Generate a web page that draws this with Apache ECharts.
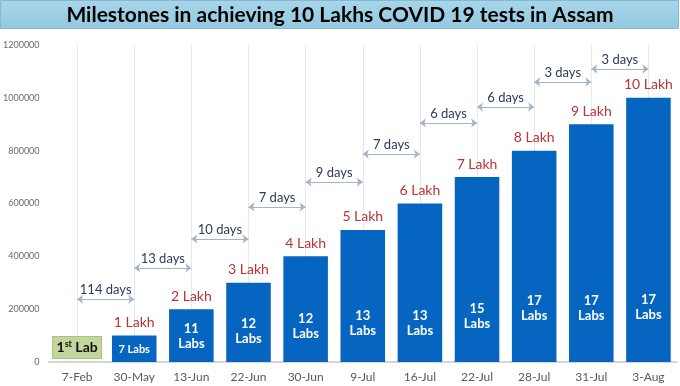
<!DOCTYPE html>
<html>
<head>
<meta charset="utf-8">
<style>html,body{margin:0;padding:0;background:#fff}#c{width:680px;height:386px}</style>
<script src="https://cdn.jsdelivr.net/npm/echarts@6/dist/echarts.min.js"></script>
</head>
<body>
<div id="c"></div>
<script>
const titleText = 'Milestones in achieving 10 Lakhs COVID 19 tests in Assam';
const categories = ['7-Feb','30-May','13-Jun','22-Jun','30-Jun','9-Jul','16-Jul','22-Jul','28-Jul','31-Jul','3-Aug'];
const tests = [0,100000,200000,300000,400000,500000,600000,700000,800000,900000,1000000];
const lakhLabels = ['','1 Lakh','2 Lakh','3 Lakh','4 Lakh','5 Lakh','6 Lakh','7 Lakh','8 Lakh','9 Lakh','10 Lakh'];
const labs = [1,7,11,12,12,13,13,15,17,17,17];
const gapDays = [114,13,10,7,9,7,6,6,3,3];
const gapArrowLevels = [238000,356000,466000,587000,681000,787000,905000,965000,1060000,1109000];
const yTicks = {min:0, max:1200000, interval:200000};

// label styling (pixels above bar bottom for the lab-count labels)
const labLabelLift = [4,6,11,16,21,24,24,31,39,39,40];

const font = 'Lato, "Open Sans", sans-serif';
const chart = echarts.init(document.getElementById('c'));

const barData = tests.map((v, i) => {
  if (i === 0) {
    return {
      value: v,
      itemStyle: {color: 'transparent'},
      label: {
        show: true, position: 'insideBottom', distance: labLabelLift[i],
        formatter: '{n|' + labs[i] + '}{s|st}{n| Lab}',
        backgroundColor: '#c3d69b', borderColor: '#a9bf84', borderWidth: 1,
        padding: [2, 5, 2, 5], width: 38, align: 'center',
        rich: {
          n: {fontFamily: font, fontWeight: 'bold', fontSize: 14, color: '#111', lineHeight: 17},
          s: {fontFamily: font, fontWeight: 'bold', fontSize: 9, color: '#111', padding: [0, 0, 7, 0]}
        }
      }
    };
  }
  const single = i === 1;
  return {
    value: v,
    label: {
      show: true, position: 'insideBottom', distance: labLabelLift[i],
      formatter: single ? labs[i] + ' Labs' : labs[i] + '\nLabs',
      color: '#fff', fontFamily: font, fontWeight: 'bold',
      fontSize: single ? 11 : 13, lineHeight: single ? 13 : 15
    }
  };
});

const gridLines = categories.map(c => ({xAxis: c}));

const arrows = gapDays.map((d, i) => [
  {coord: [categories[i], gapArrowLevels[i]], name: d + ' days'},
  {coord: [categories[i + 1], gapArrowLevels[i]]}
]);

chart.setOption({
  animation: false,
  backgroundColor: '#fff',
  graphic: [{
    type: 'rect', left: 0, top: 0, z: -1,
    shape: {width: 678, height: 28},
    style: {
      fill: new echarts.graphic.LinearGradient(0, 0, 0, 1, [
        {offset: 0, color: '#a8d6ea'}, {offset: 1, color: '#93c8df'}
      ]),
      stroke: '#86b9d0', lineWidth: 1
    }
  }],
  title: {
    text: titleText, left: 'center', top: 0,
    textStyle: {fontFamily: font, fontWeight: 'bold', fontSize: 21, color: '#000'}
  },
  grid: {left: 44, right: 3, top: 45, bottom: 24},
  xAxis: {
    type: 'category', data: categories,
    axisTick: {show: false},
    axisLine: {lineStyle: {color: '#c8c8c8', width: 1.5}},
    axisLabel: {color: '#595959', fontFamily: font, fontSize: 12, margin: 9},
    splitLine: {show: false}
  },
  yAxis: {
    type: 'value', min: yTicks.min, max: yTicks.max, interval: yTicks.interval,
    axisLine: {show: false}, axisTick: {show: false}, splitLine: {show: false},
    axisLabel: {color: '#6b6b6b', fontFamily: font, fontSize: 9, margin: 9, formatter: v => String(v)}
  },
  series: [{
    type: 'bar', data: barData, barCategoryGap: '22%',
    itemStyle: {color: '#0565c0'}, z: 2,
    markLine: {
      silent: true, z: 1, symbol: 'none',
      label: {show: false},
      lineStyle: {color: '#e9e9e9', width: 1, type: 'solid'},
      data: gridLines
    }
  }, {
    type: 'bar', data: tests.map(v => v), barGap: '-100%', barCategoryGap: '22%',
    itemStyle: {color: 'transparent'}, silent: true, z: 3,
    label: {
      show: true, position: 'top', distance: 6,
      formatter: p => lakhLabels[p.dataIndex],
      color: '#bb3333', fontFamily: font, fontSize: 14
    },
    markLine: {
      silent: true, symbol: ['arrow', 'arrow'], symbolSize: [7, 6], z: 5,
      lineStyle: {color: '#a2b5cd', width: 1.2, type: 'solid'},
      label: {
        show: true, position: 'insideMiddleTop', distance: 3,
        formatter: p => p.name,
        color: '#2e3a5a', fontFamily: font, fontSize: 13
      },
      data: arrows
    }
  }]
});
</script>
</body>
</html>
